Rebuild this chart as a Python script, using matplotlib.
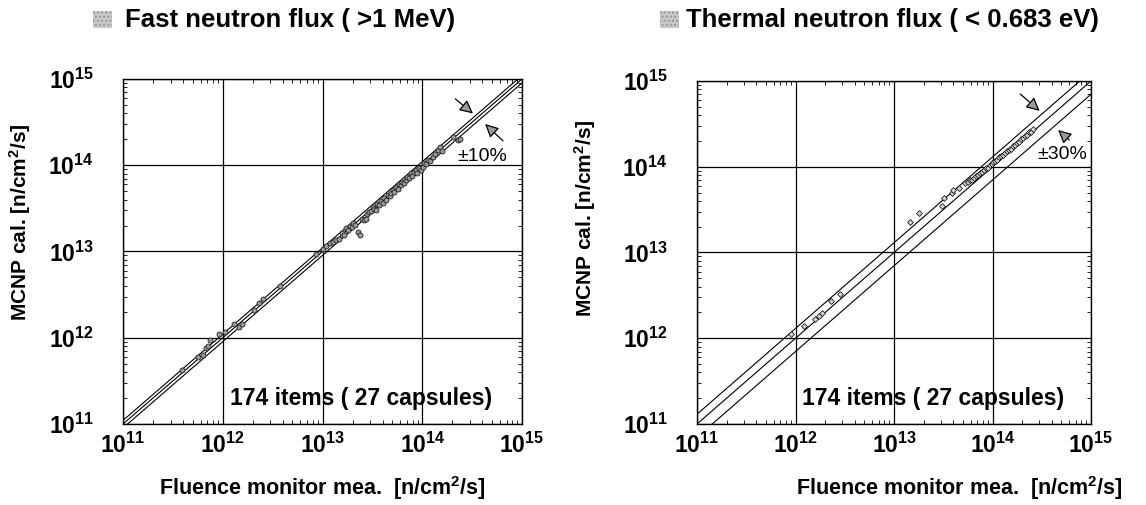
import numpy as np
import matplotlib
matplotlib.use("Agg")
import matplotlib.pyplot as plt
from matplotlib.patches import Rectangle
from matplotlib.ticker import LogLocator, LogFormatterMathtext, NullFormatter

plt.rcParams['font.family'] = ['Liberation Sans', 'DejaVu Sans']
plt.rcParams['font.weight'] = 'bold'
plt.rcParams['axes.labelweight'] = 'bold'
plt.rcParams['mathtext.fontset'] = 'custom'
plt.rcParams['mathtext.rm'] = 'Liberation Sans:bold'
plt.rcParams['mathtext.it'] = 'Liberation Sans:bold'
plt.rcParams['mathtext.bf'] = 'Liberation Sans:bold'
plt.rcParams['mathtext.default'] = 'rm'

# ---------------- data (log10 of flux) ----------------
fast_mea_exp = [11.59, 11.75, 11.80, 11.83, 11.85, 11.87, 11.96, 12.02, 12.11, 12.16, 12.19,
                12.31, 12.36, 12.40, 12.57,
                12.93, 13.00, 13.04, 13.08, 13.11, 13.14, 13.17, 13.20, 13.22, 13.24, 13.26,
                13.28, 13.30, 13.31, 13.33, 13.36, 13.38, 13.40, 13.42, 13.44, 13.45, 13.47,
                13.49, 13.51, 13.52, 13.54, 13.55, 13.57, 13.59, 13.61, 13.62, 13.64, 13.66,
                13.68, 13.69, 13.71, 13.72, 13.74, 13.76, 13.77, 13.79, 13.80, 13.82, 13.84,
                13.85, 13.87, 13.89, 13.90, 13.92, 13.94, 13.95, 13.97, 13.99, 14.01, 14.02,
                14.04, 14.06, 14.08, 14.11, 14.13, 14.16, 14.18, 14.20, 14.31, 14.36, 14.38]
fast_cal_exp = [11.63, 11.78, 11.80, 11.88, 11.90, 11.97, 12.04, 12.07, 12.16, 12.13, 12.16,
                12.32, 12.40, 12.45, 12.60,
                12.97, 13.03, 13.06, 13.10, 13.11, 13.13, 13.15, 13.21, 13.19, 13.27, 13.25,
                13.30, 13.28, 13.33, 13.31, 13.23, 13.19, 13.38, 13.36, 13.38, 13.44, 13.46,
                13.47, 13.52, 13.49, 13.48, 13.55, 13.54, 13.58, 13.56, 13.62, 13.60, 13.66,
                13.64, 13.68, 13.71, 13.69, 13.75, 13.73, 13.78, 13.77, 13.81, 13.79, 13.83,
                13.86, 13.85, 13.91, 13.88, 13.92, 13.95, 13.91, 13.97, 13.95, 13.98, 14.03,
                14.01, 14.06, 14.05, 14.10, 14.13, 14.18, 14.21, 14.16, 14.33, 14.29, 14.30]

thermal_mea_exp = [11.95, 12.09, 12.20, 12.24, 12.27, 12.36, 12.45,
                   13.16, 13.25, 13.49, 13.51, 13.59, 13.60, 13.66, 13.72,
                   13.75, 13.77, 13.79, 13.81, 13.83, 13.85, 13.87, 13.89, 13.91, 13.93,
                   13.95, 13.97, 13.99, 14.01, 14.03, 14.05, 14.07, 14.09, 14.11, 14.13,
                   14.15, 14.17, 14.19, 14.21, 14.23, 14.25, 14.27, 14.29, 14.31, 14.33,
                   14.35, 14.37, 14.39, 14.41]
thermal_cal_exp = [12.05, 12.14, 12.22, 12.26, 12.29, 12.43, 12.52,
                   13.35, 13.46, 13.54, 13.64, 13.69, 13.73, 13.75, 13.81,
                   13.82, 13.84, 13.85, 13.87, 13.89, 13.90, 13.93, 13.94, 13.96, 13.98,
                   13.99, 14.02, 14.03, 14.05, 14.07, 14.08, 14.11, 14.12, 14.14, 14.16,
                   14.18, 14.20, 14.21, 14.24, 14.25, 14.28, 14.29, 14.32, 14.33, 14.36,
                   14.37, 14.40, 14.41, 14.44]

fast_band = 0.10      # +-10 %
thermal_band = 0.30   # +-30 %
axis_limits = (1e11, 1e15)
decade_ticks = [1e11, 1e12, 1e13, 1e14, 1e15]

titles = ["Fast neutron flux ( >1 MeV)", "Thermal neutron flux ( < 0.683 eV)"]
band_labels = ["\u00b110%", "\u00b130%"]
count_label = "174 items ( 27 capsules)"
xlabel = "Fluence monitor mea.  [n/cm$^2$/s]"
ylabel = "MCNP cal. [n/cm$^2$/s]"

# ---------------- figure ----------------
fig = plt.figure(figsize=(11.46, 5.05), dpi=100)
W, H = 1146, 505
ax1 = fig.add_axes([123 / W, 1 - 424 / H, 399 / W, 345 / H])
ax2 = fig.add_axes([697 / W, 1 - 424 / H, 394 / W, 343 / H])

line_x = np.array(axis_limits)


def style(ax):
    ax.set_xscale('log')
    ax.set_yscale('log')
    ax.set_xlim(*axis_limits)
    ax.set_ylim(*axis_limits)
    ax.set_xticks(decade_ticks)
    ax.set_yticks(decade_ticks)
    ax.xaxis.set_major_formatter(LogFormatterMathtext())
    ax.yaxis.set_major_formatter(LogFormatterMathtext())
    for a in (ax.xaxis, ax.yaxis):
        a.set_minor_locator(LogLocator(base=10, subs=np.arange(2, 10), numticks=20))
        a.set_minor_formatter(NullFormatter())
    ax.tick_params(which='major', length=0, labelsize=16.5)
    ax.tick_params(axis='x', which='major', pad=6)
    ax.tick_params(axis='y', which='major', pad=21)
    ax.tick_params(which='minor', direction='in', length=3, width=0.6,
                   top=True, right=True)
    ax.grid(True, which='major', color='black', linewidth=0.9)
    for s in ax.spines.values():
        s.set_linewidth(1.0)
    ax.set_axisbelow(True)


for ax in (ax1, ax2):
    style(ax)

# fast panel
ax1.plot(line_x, line_x, color='black', lw=0.8)
ax1.plot(line_x, line_x * (1 + fast_band), color='black', lw=0.8)
ax1.plot(line_x, line_x * (1 - fast_band), color='black', lw=0.8)
ax1.plot(10 ** np.array(fast_mea_exp), 10 ** np.array(fast_cal_exp), 'o', ms=3.6,
         mfc='#9a9a9a', mec='#222222', mew=0.6, ls='none')

# thermal panel
ax2.plot(line_x, line_x, color='black', lw=0.8)
ax2.plot(line_x, line_x * (1 + thermal_band), color='black', lw=0.8)
ax2.plot(line_x, line_x * (1 - thermal_band), color='black', lw=0.8)
ax2.plot(10 ** np.array(thermal_mea_exp), 10 ** np.array(thermal_cal_exp), 'D', ms=3,
         mfc='#d0d0d0', mec='black', mew=0.5, ls='none')

arrow_kw = dict(arrowstyle='-|>', fc='#9a9a9a', ec='black', lw=0.9, mutation_scale=20)
ax1.annotate('', xy=(10 ** 14.53, 10 ** 14.58), xytext=(10 ** 14.31, 10 ** 14.79),
             arrowprops=arrow_kw)
ax1.annotate('', xy=(10 ** 14.61, 10 ** 14.50), xytext=(10 ** 14.83, 10 ** 14.26),
             arrowprops=arrow_kw)
ax2.annotate('', xy=(10 ** 14.50, 10 ** 14.63), xytext=(10 ** 14.26, 10 ** 14.87),
             arrowprops=arrow_kw)
ax2.annotate('', xy=(10 ** 14.645, 10 ** 14.45), xytext=(10 ** 14.80, 10 ** 14.29),
             arrowprops=arrow_kw)

ax1.text(10 ** 14.35, 10 ** 14.1, band_labels[0], fontsize=14, ha='left', va='center',
         fontweight='normal')
ax2.text(10 ** 14.46, 10 ** 14.14, band_labels[1], fontsize=14, ha='left', va='center',
         fontweight='normal')

for ax in (ax1, ax2):
    ax.text(10 ** 12.07, 10 ** 11.3, count_label, fontsize=16.5, ha='left', va='center')
    ax.set_xlabel(xlabel, fontsize=15.5)
    ax.set_ylabel(ylabel, fontsize=15)

ax1.xaxis.set_label_coords(0.5, -0.145)
ax2.xaxis.set_label_coords(0.667, -0.145)
ax1.yaxis.set_label_coords(-0.226, 0.585)
ax2.yaxis.set_label_coords(-0.251, 0.60)

# titles with small halftone squares
fig.text(125 / W, 1 - 20 / H, titles[0], fontsize=18.5, ha='left', va='center')
fig.text(686 / W, 1 - 20 / H, titles[1], fontsize=18.5, ha='left', va='center')
for x0 in (93, 660):
    fig.patches.append(Rectangle((x0 / W, 1 - 28 / H), 19 / W, 17 / H,
                                 transform=fig.transFigure, facecolor='#c8c8c8',
                                 edgecolor='#9a9a9a', hatch='....', lw=0.0))

fig.savefig('out.png', dpi=100)
